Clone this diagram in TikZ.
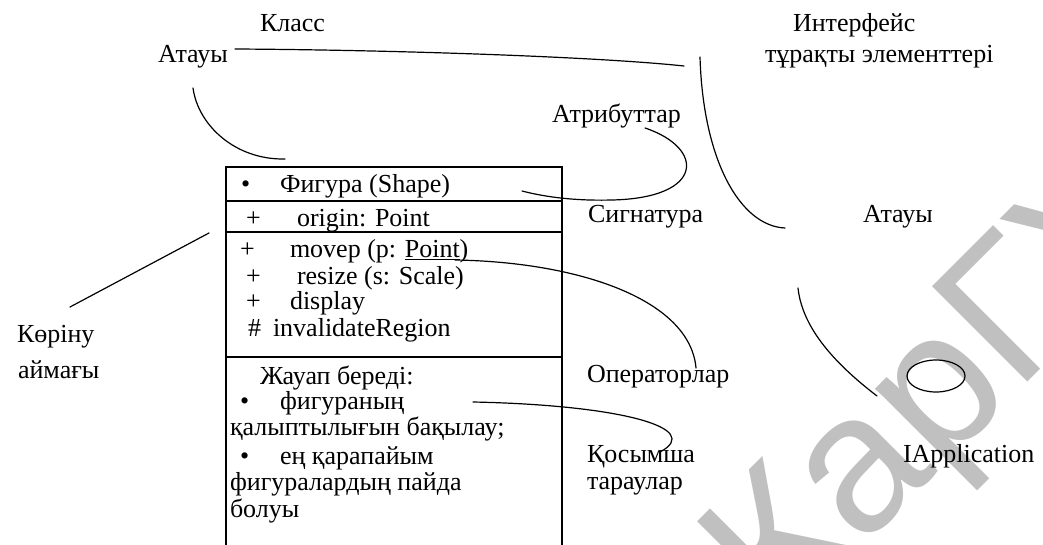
\documentclass[tikz,border=0pt]{standalone}
\usepackage{fontspec}
\setmainfont{Liberation Serif}
\newfontfamily\wmfont{Liberation Sans}
\definecolor{wmgray}{RGB}{192,192,192}
\tikzset{
  lbl/.style={inner sep=0pt, outer sep=0pt, anchor=base west, font=\fontsize{26}{26}\selectfont},
  conn/.style={line width=1.2pt, line cap=round},
  boxline/.style={line width=1.6pt},
  wm/.style={inner sep=0pt, anchor=base west, text=wmgray, font=\wmfont\fontsize{196}{196}\selectfont}
}
\begin{document}
\begin{tikzpicture}[x=1pt,y=-1pt]
\useasboundingbox (0,0) rectangle (1043,545);
% watermark
\begin{scope}
\clip (0,0) rectangle (1043,545);
\node[wm, rotate=45] (wmk) at (781,629) {КарГУ};
\end{scope}

% box
\coordinate (bTL) at (226,167);
\coordinate (bTR) at (562,167);
\coordinate (bBL) at (226,545);
\coordinate (bBR) at (562,545);
\draw[boxline] (bBL) -- (bTL) -- (bTR) -- (bBR);
\draw[boxline] (226,201) -- (562,201);
\draw[boxline] (226,232) -- (562,232);
\draw[boxline] (226,357) -- (562,357);

% box texts
\node[lbl] (r1b) at (241,193) {•};
\node[lbl] (r1) at (280,193) {Фигура (Shape)};
\node[lbl] (r2b) at (246,226) {+};
\node[lbl] (r2) at (297,226) {origin: Point};
\node[lbl] (r3b) at (240,258) {+};
\node[lbl] (r3) at (290,258) {movep (p: \underline{Point})};
\node[lbl] (r4b) at (246,284) {+};
\node[lbl] (r4) at (297,284) {resize (s: Scale)};
\node[lbl] (r5b) at (246,309) {+};
\node[lbl] (r5) at (290,309) {display};
\node[lbl] (r6b) at (248,336) {\#};
\node[lbl] (r6) at (273,336) {invalidateRegion};
\node[lbl] (s1) at (260,384) {Жауап береді:};
\node[lbl] (s2b) at (240,409) {•};
\node[lbl] (s2) at (280,409) {фигураның};
\node[lbl] (s3) at (230,435) {қалыптылығын бақылау;};
\node[lbl] (s4b) at (240,464) {•};
\node[lbl] (s4) at (280,464) {ең қарапайым};
\node[lbl] (s5) at (230,490) {фигуралардың пайда};
\node[lbl] (s6) at (230,517) {болуы};

% outside labels
\node[lbl] (klass) at (260,32) {Класс};
\node[lbl] (atauy1) at (158,63) {Атауы};
\node[lbl] (interf) at (793,32) {Интерфейс};
\node[lbl] (turak) at (765,63) {тұрақты элементтері};
\node[lbl] (atr) at (552,123) {Атрибуттар};
\node[lbl] (sig) at (588,223) {Сигнатура};
\node[lbl] (atauy2) at (863,223) {Атауы};
\node[lbl] (kor) at (17,342) {Көріну};
\node[lbl] (aym) at (18,378) {аймағы};
\node[lbl] (oper) at (587,382) {Операторлар};
\node[lbl] (kos) at (587,462) {Қосымша};
\node[lbl] (tar) at (587,489) {тараулар};
\node[lbl] (iapp) at (903,462) {IApplication};

% connector end points
\coordinate (c1a) at (235,49);
\coordinate (c1b) at (684,66);
\coordinate (c2a) at (193,88);
\coordinate (c2b) at (285,159);
\coordinate (c3a) at (700,57);
\coordinate (c3b) at (785,228);
\coordinate (c4a) at (645,128);
\coordinate (c4m) at (612,200);
\coordinate (c4b) at (522,191);
\coordinate (c5a) at (70,307);
\coordinate (c5b) at (209,233);
\coordinate (c6a) at (455,260);
\coordinate (c6b) at (696,368);
\coordinate (c7a) at (473,402);
\coordinate (c7b) at (660,452);
\coordinate (c8a) at (798,288);
\coordinate (c8b) at (877,396);
\coordinate (ell) at (936,376);

% connectors
\draw[conn] (c1a) .. controls (400,50) and (600,57) .. (c1b);
\draw[conn] (c2a) .. controls (198,125) and (235,160) .. (c2b);
\draw[conn] (c3a) .. controls (703,160) and (740,226) .. (c3b);
\draw[conn] (c4a) .. controls (705,148) and (705,198) .. (c4m) .. controls (575,201) and (545,197) .. (c4b);
\draw[conn] (c5a) -- (c5b);
\draw[conn] (c6a) .. controls (580,262) and (690,300) .. (c6b);
\draw[conn] (c7a) .. controls (620,405) and (705,428) .. (c7b);
\draw[conn] (c8a) .. controls (802,325) and (830,360) .. (c8b);
\draw[conn] (ell) ellipse [x radius=29pt, y radius=16pt];
\end{tikzpicture}
\end{document}
